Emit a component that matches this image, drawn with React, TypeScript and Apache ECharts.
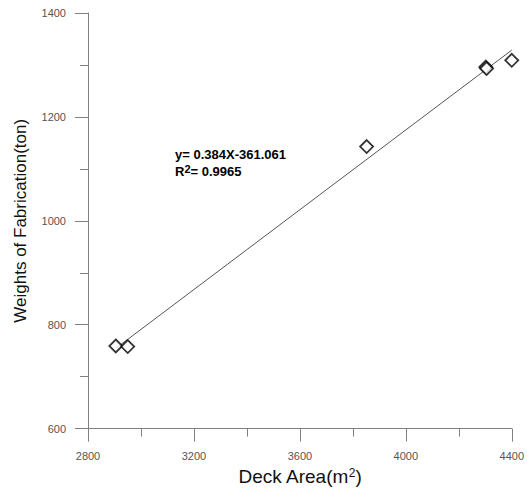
import React, { useEffect, useRef } from "react";
import * as echarts from "echarts";

// Deck area (m²) vs. fabrication weight (ton)
const deckArea = [2905, 2950, 3852, 4302, 4305, 4400];
const weights = [759, 758, 1143, 1296, 1293, 1309];

// Least-squares fit reported on the chart
const slope = 0.384;
const intercept = -361.061;
const fitRange = [2905, 4400];

const xTicks = { min: 2800, max: 4400, interval: 400 };
const yTicks = { min: 600, max: 1400, interval: 200 };

const FONT = "'Liberation Sans', Arial, sans-serif";

export default function App() {
  const ref = useRef<HTMLDivElement>(null);

  useEffect(() => {
    document.body.style.margin = "0";
    document.body.style.overflow = "hidden";
    if (!ref.current) return;
    const chart = echarts.init(ref.current, undefined, { renderer: "svg" });

    const points = deckArea.map((x, i) => [x, weights[i]]);
    const fitLine = fitRange.map((x) => [x, slope * x + intercept]);

    const axisCommon = {
      axisLine: { show: true, lineStyle: { color: "#808080", width: 1 } },
      axisTick: { show: true, inside: false, length: 13, lineStyle: { color: "#808080" } },
      minorTick: { show: true, splitNumber: 2, length: 8, lineStyle: { color: "#808080" } },
      splitLine: { show: false },
      minorSplitLine: { show: false },
      axisLabel: {
        color: "#555",
        fontSize: 11,
        fontFamily: FONT,
        margin: 22,
        formatter: (v: number) => String(v),
      },
    };

    chart.setOption({
      animation: false,
      backgroundColor: "#fff",
      grid: { left: 88, right: 12, top: 13, bottom: 56 },
      xAxis: {
        type: "value",
        ...xTicks,
        ...axisCommon,
        name: "{a|Deck Area(m}{s|2}{a|)}",
        nameLocation: "middle",
        nameGap: 33,
        nameTextStyle: {
          rich: {
            a: { fontSize: 19, fontFamily: FONT, color: "#111" },
            s: { fontSize: 12, fontFamily: FONT, color: "#111", verticalAlign: "top", padding: [0, 0, 8, 0] },
          },
        },
      },
      yAxis: {
        type: "value",
        ...yTicks,
        ...axisCommon,
        name: "Weights of Fabrication(ton)",
        nameLocation: "middle",
        nameGap: 59,
        nameTextStyle: { fontSize: 17, fontFamily: FONT, color: "#111" },
      },
      series: [
        {
          type: "line",
          data: fitLine,
          symbol: "none",
          lineStyle: { color: "#555", width: 1 },
          silent: true,
          z: 1,
        },
        {
          type: "scatter",
          data: points,
          symbol: "diamond",
          symbolSize: 13,
          itemStyle: { color: "#fff", borderColor: "#000", borderWidth: 1.8 },
          z: 2,
        },
      ],
      graphic: [
        {
          type: "text",
          left: 175,
          top: 148,
          style: {
            text: `{b|y= ${slope}X${intercept}}\n{b|R}{s|2}{b|= 0.9965}`,
            fontFamily: FONT,
            rich: {
              b: { fontSize: 13, fontWeight: "bold", fontFamily: FONT, fill: "#000", lineHeight: 17 },
              s: { fontSize: 11, fontWeight: "bold", fontFamily: FONT, fill: "#000", lineHeight: 17, verticalAlign: "top" },
            },
          },
        },
      ],
    });

    return () => chart.dispose();
  }, []);

  return (
    <div
      ref={ref}
      style={{ position: "fixed", left: 0, top: 0, width: 527, height: 491 }}
    />
  );
}
